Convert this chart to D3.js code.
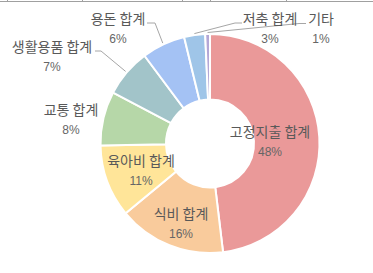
<!DOCTYPE html>
<html>
  <head>
    <meta charset="utf-8">
    <script src="https://d3js.org/d3.v7.min.js"></script>
    <style>
      body {
        margin: 0px;
        background: #ffffff;
      }
      .name {
        fill: #595959;
        font-size: 14px;
        font-family: "Noto Sans CJK KR", sans-serif;
      }
      .pct {
        fill: #666666;
        font-size: 12px;
        font-family: "Liberation Sans", Arial, sans-serif;
      }
    </style>
  </head>
  <body>
    <svg width="373" height="273"></svg>
    <script>
      // categories and shares (%), clockwise from 12 o'clock
      var categories = ["고정지출 합계", "식비 합계", "육아비 합계", "교통 합계", "생활용품 합계", "용돈 합계", "저축 합계", "기타"];
      var shares = [48.1, 15.9, 10.7, 8.0, 7.1, 6.4, 3.1, 0.7];
      var colors = ["#ea9999", "#f9cb9c", "#ffe599", "#b6d7a8", "#a2c4c9", "#a4c2f4", "#9fc5e8", "#b4a7d6"];

      // label layout (centre of the name line) and leader line elbows
      var labelAt = [[270, 132], [181, 214], [141, 161], [71, 110], [52, 47], [118, 19], [270, 19], [321, 19]];
      var leaders = {4: [[95, 51], [101, 51]], 5: [[147, 23], [155, 23]], 6: [[242, 23], [235, 23]], 7: [[306, 23.5], [299, 23.5]]};

      var svg = d3.select("svg");
      var cx = 210, cy = 143.5, outer = 109.5, inner = 44;

      // spreadsheet grid edge at the top
      var grid = svg.append("g").attr("stroke", "#a0a0a0").attr("stroke-width", 1);
      grid.append("line").attr("x1", 0).attr("x2", 373).attr("y1", 1.5).attr("y2", 1.5);
      [7, 82, 182, 210, 286].forEach(function (x) {
        grid.append("line").attr("x1", x + 0.5).attr("x2", x + 0.5).attr("y1", 0).attr("y2", 2);
      });

      var data = categories.map(function (c, i) { return {name: c, value: shares[i], i: i}; });

      var pie = d3.pie().sort(null).value(function (d) { return d.value; });
      var arcs = pie(data);
      var arc = d3.arc().innerRadius(inner).outerRadius(outer);
      var edge = d3.arc().innerRadius(111).outerRadius(111);

      var g = svg.append("g").attr("transform", "translate(" + cx + "," + cy + ")");

      g.selectAll("path")
        .data(arcs)
        .enter()
        .append("path")
        .attr("d", arc)
        .style("fill", function (d) { return colors[d.data.i]; })
        .style("stroke", "#ffffff")
        .style("stroke-width", 2);

      // leader lines for the small outside labels
      Object.keys(leaders).forEach(function (k) {
        var p = edge.centroid(arcs[k]);
        var pts = leaders[k].concat([[p[0] + cx, p[1] + cy]]);
        svg.append("path")
          .attr("d", d3.line()(pts))
          .attr("fill", "none")
          .attr("stroke", "#a6a6a6")
          .attr("stroke-width", 1);
      });

      var labels = svg.selectAll("g.label")
        .data(data)
        .enter()
        .append("g")
        .attr("class", "label")
        .attr("transform", function (d) { return "translate(" + labelAt[d.i][0] + "," + labelAt[d.i][1] + ")"; });

      labels.append("text")
        .attr("class", "name")
        .attr("text-anchor", "middle")
        .attr("dy", "0.36em")
        .text(function (d) { return d.name; });

      labels.append("text")
        .attr("class", "pct")
        .attr("text-anchor", "middle")
        .attr("y", 20)
        .attr("dy", "0.36em")
        .text(function (d) { return Math.round(d.value) + "%"; });
    </script>
  </body>
</html>
